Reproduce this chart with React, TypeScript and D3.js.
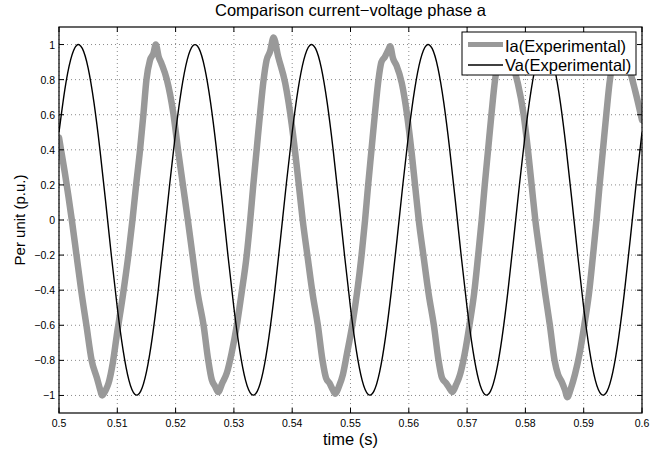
import React from "react";
import * as d3 from "d3";

const xTicks = [0.5, 0.51, 0.52, 0.53, 0.54, 0.55, 0.56, 0.57, 0.58, 0.59, 0.6];
const xTickLabels = ["0.5", "0.51", "0.52", "0.53", "0.54", "0.55", "0.56", "0.57", "0.58", "0.59", "0.6"];
const yTicks = [-1, -0.8, -0.6, -0.4, -0.2, 0, 0.2, 0.4, 0.6, 0.8, 1];
const yTickLabels = ["\u22121", "\u22120.8", "\u22120.6", "\u22120.4", "\u22120.2", "0", "0.2", "0.4", "0.6", "0.8", "1"];

// Va(Experimental): sampled every 1 ms starting at t = 0.5 s
const vaStart = 0.5;
const vaStep = 0.001;
const vaValues = [
  0.5, 0.743, 0.914, 0.995, 0.978, 0.866, 0.669, 0.407, 0.105, -0.208,
  -0.5, -0.743, -0.914, -0.993, -0.977, -0.866, -0.669, -0.407, -0.105, 0.208,
  0.5, 0.743, 0.914, 0.994, 0.978, 0.866, 0.669, 0.407, 0.105, -0.208,
  -0.5, -0.743, -0.914, -0.993, -0.977, -0.866, -0.669, -0.407, -0.105, 0.208,
  0.5, 0.743, 0.914, 0.995, 0.978, 0.866, 0.669, 0.407, 0.105, -0.208,
  -0.5, -0.743, -0.914, -0.993, -0.977, -0.866, -0.669, -0.407, -0.105, 0.208,
  0.5, 0.743, 0.914, 0.995, 0.978, 0.866, 0.669, 0.407, 0.105, -0.208,
  -0.5, -0.743, -0.914, -0.993, -0.977, -0.866, -0.669, -0.407, -0.105, 0.208,
  0.5, 0.743, 0.914, 0.995, 0.978, 0.866, 0.669, 0.407, 0.105, -0.208,
  -0.5, -0.743, -0.914, -0.993, -0.977, -0.866, -0.669, -0.407, -0.105, 0.208,
  0.5,
];

// Ia(Experimental): points
const iaTime = [
  0.5, 0.501, 0.5022, 0.503, 0.5038, 0.5047, 0.5056, 0.5065, 0.507, 0.5074,
  0.508, 0.5085, 0.5092, 0.5099, 0.511, 0.5119, 0.5126, 0.5132, 0.5139, 0.5145,
  0.515, 0.5156, 0.5162, 0.5166, 0.5171, 0.5176, 0.5185, 0.5196, 0.5205, 0.5213,
  0.5221, 0.5229, 0.5238, 0.5248, 0.5256, 0.5262, 0.5268, 0.5273, 0.528, 0.5288,
  0.5296, 0.5305, 0.5313, 0.5322, 0.5328, 0.5333, 0.5339, 0.5345, 0.5351, 0.5356,
  0.5362, 0.5368, 0.5376, 0.5388, 0.5399, 0.5407, 0.5413, 0.5418,
  0.5426, 0.5435, 0.5444, 0.5452, 0.5458, 0.5464, 0.547, 0.5474, 0.548, 0.5487,
  0.5494, 0.5503, 0.5511, 0.5519, 0.5525, 0.553, 0.5536, 0.5542, 0.5548, 0.5553,
  0.5559, 0.5565, 0.5568, 0.5573, 0.5579, 0.5588, 0.5597, 0.5605, 0.5611, 0.5617,
  0.5625, 0.5634, 0.5643, 0.5651, 0.5657, 0.5664, 0.567, 0.5675, 0.5681, 0.5688,
  0.5696, 0.5704, 0.5712, 0.5719, 0.5725, 0.573, 0.5736, 0.5742, 0.5748, 0.5754,
  0.576, 0.5766, 0.5772, 0.5778, 0.5787, 0.5797, 0.5805, 0.5811, 0.5817,
  0.5825, 0.5834, 0.5842, 0.585, 0.5856, 0.5862, 0.5868, 0.5872, 0.5878, 0.5885,
  0.5893, 0.5901, 0.5909, 0.5916, 0.5922, 0.5927, 0.5933, 0.5939, 0.5945, 0.5951,
  0.5957, 0.5963, 0.5967, 0.5972, 0.5979, 0.5988, 0.6,
];
const iaValue = [
  0.47, 0.27, 0.0, -0.2, -0.4, -0.6, -0.8, -0.9, -0.96, -1.0,
  -0.97, -0.93, -0.82, -0.66, -0.42, -0.2, 0.0, 0.19, 0.4, 0.61,
  0.8, 0.91, 0.95, 1.0, 0.93, 0.89, 0.8, 0.61, 0.38, 0.19,
  0.0, -0.2, -0.42, -0.6, -0.8, -0.91, -0.95, -0.98, -0.93, -0.87,
  -0.76, -0.6, -0.42, -0.2, 0.0, 0.19, 0.4, 0.61, 0.8, 0.91,
  0.96, 1.04, 0.93, 0.78, 0.55, 0.33, 0.15, 0.0,
  -0.2, -0.42, -0.6, -0.8, -0.9, -0.93, -0.97, -0.99, -0.95, -0.88,
  -0.76, -0.6, -0.42, -0.2, 0.0, 0.19, 0.4, 0.61, 0.8, 0.9,
  0.93, 0.97, 0.99, 0.92, 0.88, 0.78, 0.6, 0.38, 0.19, 0.0,
  -0.2, -0.42, -0.6, -0.8, -0.9, -0.93, -0.96, -0.98, -0.94, -0.88,
  -0.76, -0.6, -0.42, -0.2, 0.0, 0.19, 0.4, 0.61, 0.8, 0.9,
  0.93, 0.97, 0.92, 0.88, 0.78, 0.6, 0.38, 0.19, 0.0,
  -0.2, -0.42, -0.6, -0.8, -0.88, -0.92, -0.97, -1.01, -0.96, -0.88,
  -0.76, -0.6, -0.42, -0.2, 0.0, 0.19, 0.4, 0.61, 0.8, 0.9,
  0.93, 0.96, 0.95, 0.9, 0.85, 0.74, 0.57,
];

const titleText = "Comparison current\u2212voltage phase a";
const xLabel = "time (s)";
const yLabel = "Per unit (p.u.)";
const legendLabels = ["Ia(Experimental)", "Va(Experimental)"];

const FONT = "'Liberation Sans', Arial, Helvetica, sans-serif";

export default function App() {
  const W = 666;
  const H = 453;
  const left = 59, right = 642, top = 27, bottom = 413;
  const x = d3.scaleLinear().domain([0.5, 0.6]).range([left, right]);
  const y = d3.scaleLinear().domain([-1.1, 1.1]).range([bottom, top]);

  const vaPts: [number, number][] = vaValues.map((v, i) => [vaStart + i * vaStep, v]);
  const iaPts: [number, number][] = iaTime.map((t, i) => [t, iaValue[i]]);

  const vaLine = d3
    .line<[number, number]>()
    .x((d) => x(d[0]))
    .y((d) => y(d[1]))
    .curve(d3.curveNatural);
  const iaLine = d3
    .line<[number, number]>()
    .x((d) => x(d[0]))
    .y((d) => y(d[1]))
    .curve(d3.curveMonotoneX);

  const tickLen = 5;
  const gridColor = "#8a8a8a";

  return (
    <svg
      width={W}
      height={H}
      style={{ position: "fixed", left: 0, top: 0, background: "#fff" }}
      fontFamily={FONT}
    >
      <rect x={0} y={0} width={W} height={H} fill="#fff" />
      <defs>
        <clipPath id="plotClip">
          <rect x={left} y={top} width={right - left} height={bottom - top} />
        </clipPath>
      </defs>

      {/* grid */}
      {xTicks.map((t, i) => (
        <line
          key={"gx" + i}
          x1={x(t)}
          x2={x(t)}
          y1={top}
          y2={bottom}
          stroke={gridColor}
          strokeWidth={1}
          strokeDasharray="1,3"
        />
      ))}
      {yTicks.map((t, i) => (
        <line
          key={"gy" + i}
          x1={left}
          x2={right}
          y1={y(t)}
          y2={y(t)}
          stroke={gridColor}
          strokeWidth={1}
          strokeDasharray="1,3"
        />
      ))}

      {/* series */}
      <g clipPath="url(#plotClip)">
        <path
          d={iaLine(iaPts) || ""}
          fill="none"
          stroke="#999999"
          strokeWidth={6.5}
          strokeLinejoin="round"
          strokeLinecap="round"
        />
        <path d={vaLine(vaPts) || ""} fill="none" stroke="#000" strokeWidth={1.4} />
      </g>

      {/* ticks (inward, all four sides) */}
      {xTicks.map((t, i) => (
        <g key={"tx" + i}>
          <line x1={x(t)} x2={x(t)} y1={bottom} y2={bottom - tickLen} stroke="#000" strokeWidth={1} />
          <line x1={x(t)} x2={x(t)} y1={top} y2={top + tickLen} stroke="#000" strokeWidth={1} />
        </g>
      ))}
      {yTicks.map((t, i) => (
        <g key={"ty" + i}>
          <line x1={left} x2={left + tickLen} y1={y(t)} y2={y(t)} stroke="#000" strokeWidth={1} />
          <line x1={right} x2={right - tickLen} y1={y(t)} y2={y(t)} stroke="#000" strokeWidth={1} />
        </g>
      ))}

      {/* axes box */}
      <rect x={left} y={top} width={right - left} height={bottom - top} fill="none" stroke="#000" strokeWidth={1.2} />

      {/* tick labels */}
      {xTicks.map((t, i) => (
        <text key={"lx" + i} x={x(t)} y={427} fontSize={10.5} textAnchor="middle" fill="#000">
          {xTickLabels[i]}
        </text>
      ))}
      {yTicks.map((t, i) => (
        <text key={"ly" + i} x={55} y={y(t) + 4} fontSize={10.5} textAnchor="end" fill="#000">
          {yTickLabels[i]}
        </text>
      ))}

      {/* title and labels */}
      <text x={(left + right) / 2} y={16} fontSize={16.5} textAnchor="middle" fill="#000">
        {titleText}
      </text>
      <text x={(left + right) / 2} y={445} fontSize={16.5} textAnchor="middle" fill="#000">
        {xLabel}
      </text>
      <text
        transform={`translate(25, ${(top + bottom) / 2}) rotate(-90)`}
        fontSize={15}
        textAnchor="middle"
        fill="#000"
      >
        {yLabel}
      </text>

      {/* legend */}
      <g>
        <rect x={462} y={32} width={174} height={43} fill="#fff" stroke="#000" strokeWidth={1} />
        <line x1={468} x2={503} y1={44.5} y2={44.5} stroke="#999999" strokeWidth={5} />
        <text x={505} y={51.5} fontSize={16.5} fill="#000">
          {legendLabels[0]}
        </text>
        <line x1={468} x2={503} y1={65} y2={65} stroke="#000" strokeWidth={1.5} />
        <text x={505} y={71} fontSize={16.5} fill="#000">
          {legendLabels[1]}
        </text>
      </g>
    </svg>
  );
}
